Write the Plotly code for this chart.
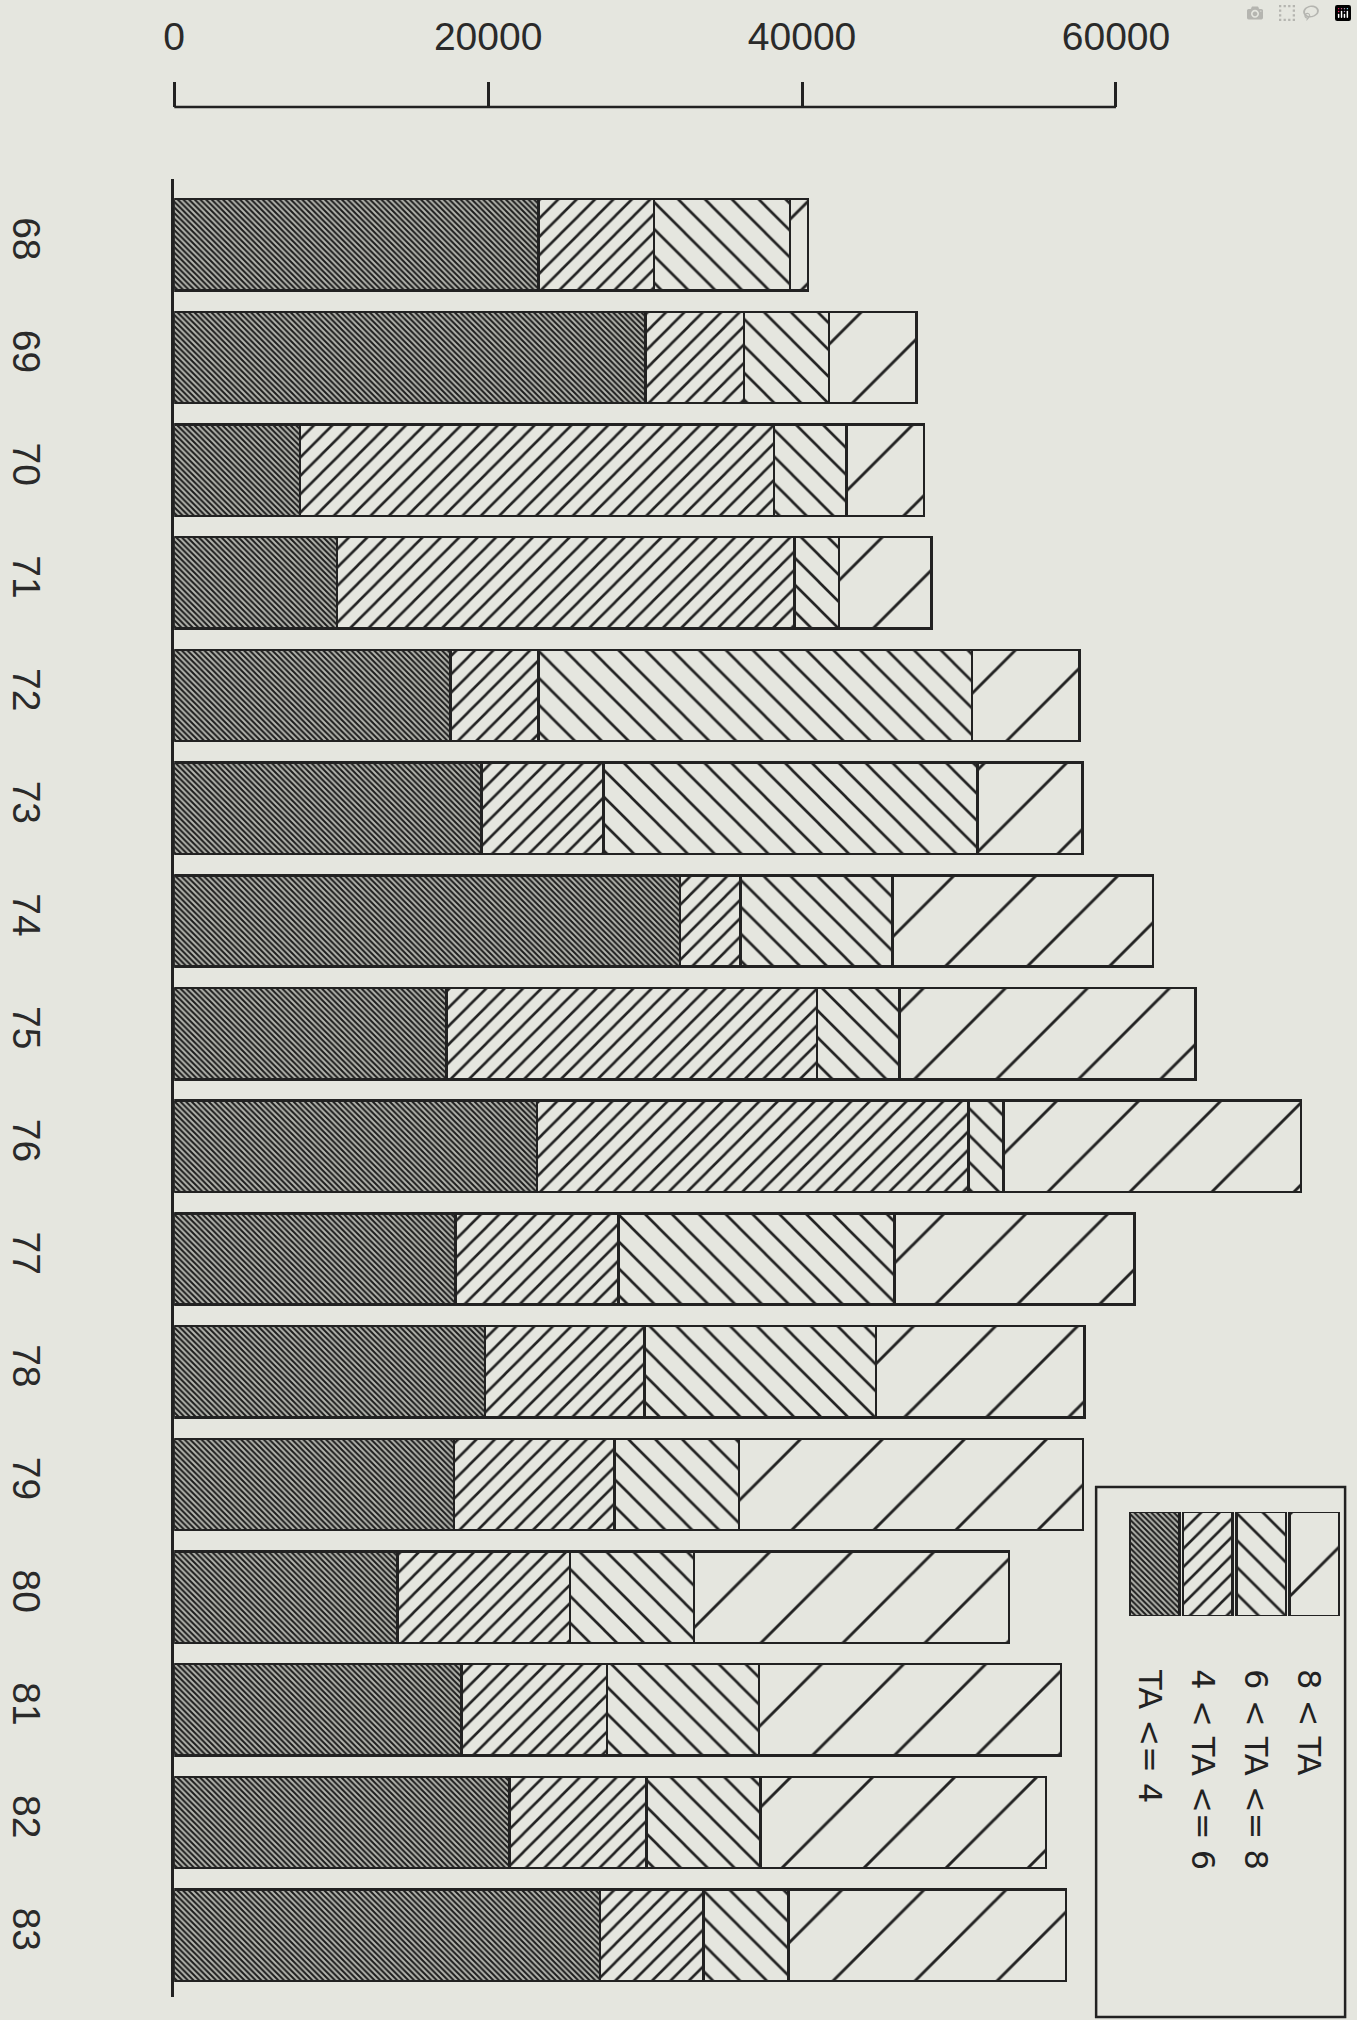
import plotly.graph_objects as go

# ---------------- data ----------------
years = ["68", "69", "70", "71", "72", "73", "74", "75",
         "76", "77", "78", "79", "80", "81", "82", "83"]
ta_le_4 = [23200, 30040, 8020, 10380, 17590, 19570, 32210, 17360,
           23110, 17920, 19810, 17830, 14240, 18300, 21360, 27120]
ta_4_6 = [7360, 6270, 30180, 29150, 5610, 7780, 3870, 23580,
          27500, 10380, 10140, 10230, 10990, 9290, 8730, 6600]
ta_6_8 = [8680, 5420, 4620, 2830, 27640, 23820, 9670, 5280,
          2220, 17590, 14760, 7920, 7880, 9670, 7260, 5420]
ta_gt_8 = [1130, 5570, 4960, 5890, 6840, 6700, 16600, 18860,
           18960, 15280, 13300, 21930, 20090, 19240, 18200, 17690]
series_names = ["TA <= 4", "4 < TA <= 6", "6 < TA <= 8", "8 < TA"]
series_values = [ta_le_4, ta_4_6, ta_6_8, ta_gt_8]
x_tick_vals = [0, 20000, 40000, 60000]

# ---------------- style ----------------
W, H = 1357, 2020
BG = "#e5e6df"
INK = "#222222"
FONT = "Liberation Sans, Arial, sans-serif"
LEGEND_FONT = "DejaVu Sans, sans-serif"
patterns = [
    dict(shape="\\", size=4, solidity=0.5, fgcolor="#1c1c1c", bgcolor="#b4b5ae"),
    dict(shape="/", size=13, solidity=0.2, fgcolor=INK, bgcolor=BG),
    dict(shape="\\", size=19, solidity=0.14, fgcolor=INK, bgcolor=BG),
    dict(shape="/", size=58, solidity=0.05, fgcolor=INK, bgcolor=BG),
]

MT, MB = 107, 23
PH = H - MT - MB
X0_PX = 164.5
PX_PER_UNIT = 316.5 / 20000.0
AXIS_TOP_PX = 179
X_MAX = (W - X0_PX) / PX_PER_UNIT


def py(px):
    """pixel y (from top of figure) -> paper fraction"""
    return (H - MB - px) / PH


def bar_marker(pat):
    return dict(color=pat["bgcolor"], line=dict(color=INK, width=2.5),
                pattern=dict(shape=pat["shape"], size=pat["size"],
                             solidity=pat["solidity"], fgcolor=pat["fgcolor"],
                             bgcolor=pat["bgcolor"], fillmode="replace"))


fig = go.Figure()
for name, vals, pat in zip(series_names, series_values, patterns):
    fig.add_trace(go.Bar(
        y=years, x=vals, name=name, orientation="h", width=0.81,
        marker=bar_marker(pat), showlegend=False, hoverinfo="skip",
    ))

# legend swatches (custom rotated legend)
for i, (name, pat) in enumerate(zip(series_names, patterns)):
    fig.add_trace(go.Bar(
        x=[i], y=[1], xaxis="x2", yaxis="y2", width=0.93, name=name,
        marker=bar_marker(pat), showlegend=False, hoverinfo="skip",
    ))
    fig.add_annotation(
        x=i - 0.09, xref="x2", y=py(1667), yref="paper", text=name,
        textangle=90, showarrow=False, xanchor="center", yanchor="top",
        font=dict(family=LEGEND_FONT, size=32, color=INK),
    )

# legend frame
fig.add_shape(type="rect", xref="paper", yref="paper",
              x0=1094 / W, x1=1345 / W, y0=py(2017), y1=py(1487),
              line=dict(color=INK, width=2.5), fillcolor="rgba(0,0,0,0)", layer="below")

# top value-axis baseline, only spanning the ticked range
fig.add_shape(type="line", xref="x", yref="paper",
              x0=x_tick_vals[0], x1=x_tick_vals[-1], y0=1, y1=1,
              line=dict(color=INK, width=2.5))

fig.update_layout(
    width=W, height=H, autosize=False,
    paper_bgcolor=BG, plot_bgcolor=BG,
    margin=dict(l=0, r=0, t=MT, b=MB, pad=0),
    barmode="stack", bargap=0.19,
    font=dict(family=FONT, color=INK),
    xaxis=dict(domain=[X0_PX / W, 1.0], range=[0, X_MAX],
               anchor="free", position=1.0, side="top",
               showline=False, ticks="outside", ticklen=25, tickwidth=2.5, tickcolor=INK,
               tickvals=x_tick_vals, ticktext=[str(v) for v in x_tick_vals],
               ticklabelstandoff=16,
               tickfont=dict(family=FONT, size=39, color="#2a2a2a"),
               showgrid=False, zeroline=False, fixedrange=True),
    yaxis=dict(domain=[0, py(AXIS_TOP_PX)], type="category",
               categoryorder="array", categoryarray=years,
               range=[15.548, -0.583], anchor="x",
               showline=True, linecolor=INK, linewidth=2.5,
               ticks="outside", ticklen=112, tickcolor="rgba(0,0,0,0)",
               tickangle=90, tickfont=dict(family=FONT, size=39, color="#2a2a2a"),
               showgrid=False, zeroline=False, fixedrange=True),
    xaxis2=dict(domain=[1126.2 / W, 1340.9 / W], range=[-0.5, 3.5], visible=False,
                anchor="y2", fixedrange=True),
    yaxis2=dict(domain=[py(1616), py(1512)], range=[0, 1], visible=False,
                anchor="x2", fixedrange=True),
)

fig.write_html("out.html", post_script="document.body.style.margin='0px';")
